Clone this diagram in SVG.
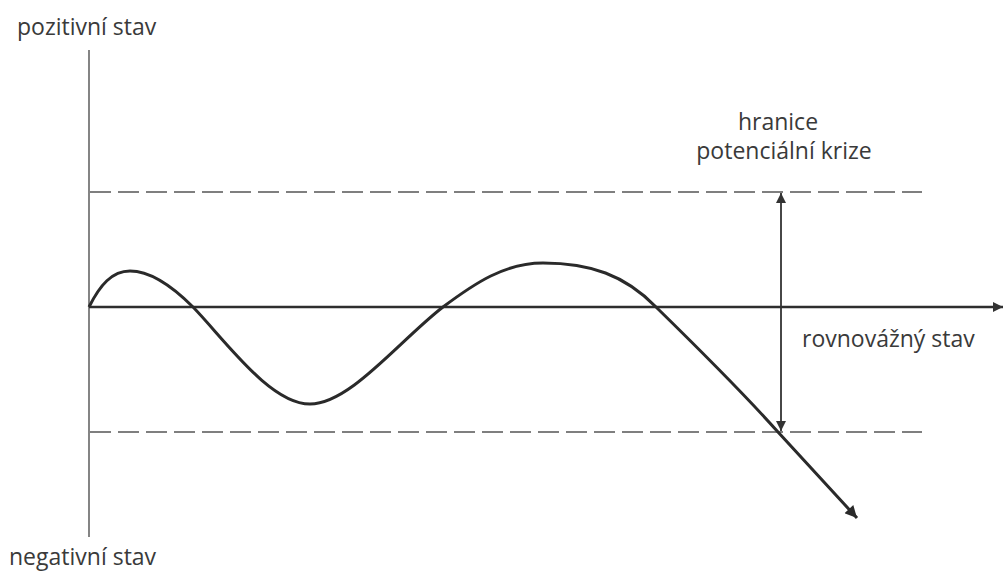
<svg xmlns="http://www.w3.org/2000/svg" width="1004" height="571" viewBox="0 0 1004 571">
<defs>
<marker id="ah" viewBox="0 0 10 10" refX="10" refY="5" markerWidth="10" markerHeight="10" markerUnits="userSpaceOnUse" orient="auto-start-reverse">
<path d="M0,0 L10,5 L0,10 z" fill="#333"/>
</marker>
<marker id="ahb" viewBox="0 0 10 10" refX="10" refY="5" markerWidth="14" markerHeight="12" markerUnits="userSpaceOnUse" orient="auto">
<path d="M0,0 L10,5 L0,10 z" fill="#2a2a2a"/>
</marker>
<style>
.lbl{font-family:"Open Sans","Noto Sans",sans-serif;font-size:23px;fill:#3a3a3a}
.dash{stroke:#555;stroke-width:1.6;stroke-dasharray:21 7;fill:none}
</style>
</defs>
<rect width="1004" height="571" fill="#fff"/>
<g id="connectors">
<line id="y-axis" x1="89" y1="50" x2="89" y2="537" stroke="#666" stroke-width="1.6"/>
<line id="x-axis" x1="89" y1="307" x2="1003" y2="307" stroke="#2e2e2e" stroke-width="2.6" marker-end="url(#ah)"/>
<line id="upper-limit" class="dash" x1="90" y1="192" x2="922" y2="192"/>
<line id="lower-limit" class="dash" x1="90" y1="432" x2="922" y2="432"/>
<line id="range-arrow" x1="781" y1="193" x2="781" y2="431" stroke="#333" stroke-width="1.8" marker-start="url(#ah)" marker-end="url(#ah)"/>
<path id="curve" d="M89,307 C100,285 112,271 130,271 C150,271 172,286 193,307 C225,340 270,404 310,404 C350,404 400,340 443,307 C475,283 505,263 543,263 C590,263 625,275 656,307 C700,350 745,395 778,432 L857,518" fill="none" stroke="#2a2a2a" stroke-width="3" marker-end="url(#ahb)"/>
</g>
<g id="label-positive"><text class="lbl" x="17" y="35">pozitivní stav</text></g>
<g id="label-negative"><text class="lbl" x="9" y="565">negativní stav</text></g>
<g id="label-limit"><text class="lbl" x="778" y="130" text-anchor="middle">hranice</text><text class="lbl" x="784" y="159" text-anchor="middle">potenciální krize</text></g>
<g id="label-equilibrium"><text class="lbl" x="802" y="347">rovnovážný stav</text></g>
</svg>
